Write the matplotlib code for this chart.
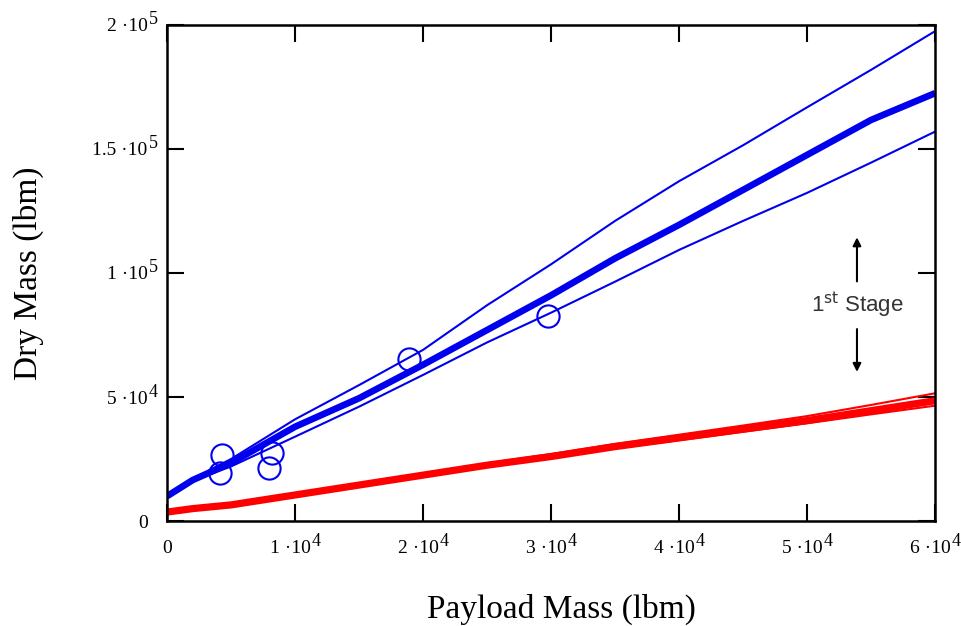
import numpy as np
import matplotlib.pyplot as plt

plt.rcParams['font.family'] = ['Liberation Serif', 'DejaVu Serif']

# payload mass (lbm)
payload = [0, 2000, 5000, 10000, 15000, 20000, 25000, 30000, 35000, 40000, 45000, 50000, 55000, 60000]

# blue: total dry mass, mean and bounds
blue_mid = [10000, 16500, 23400, 38000, 49500, 63000, 77000, 91000, 105900, 119400, 133500, 147600, 161700, 172500]
blue_hi = [10000, 17000, 25000, 41000, 54800, 69000, 87000, 103500, 121000, 137000, 151500, 166800, 181900, 197500]
blue_lo = [10000, 16200, 22000, 34000, 46100, 58900, 72000, 84000, 96500, 109300, 121000, 132300, 144500, 157000]

# red: 1st stage dry mass, mean and bounds
red_mid = [3600, 5000, 6500, 10500, 14500, 18500, 22500, 26000, 30000, 33500, 37000, 40500, 44500, 48500]
red_hi = [3600, 5100, 6700, 10900, 15000, 19200, 23300, 27000, 31100, 34800, 38500, 42300, 46800, 51500]
red_lo = [3600, 4900, 6400, 10300, 14200, 18100, 22000, 25400, 29300, 32600, 36000, 39400, 43000, 46500]

# historical vehicles
hist_x = [4300, 4100, 8200, 7950, 18900, 29800]
hist_y = [26600, 19400, 27400, 21400, 65300, 82700]

# tick labels: base text and exponent
xt = [0, 10000, 20000, 30000, 40000, 50000, 60000]
xl = ['0', '1 \u00b710', '2 \u00b710', '3 \u00b710', '4 \u00b710', '5 \u00b710', '6 \u00b710']
xexp = ['', '4', '4', '4', '4', '4', '4']
yt = [0, 50000, 100000, 150000, 200000]
yl = ['0', '5 \u00b710', '1 \u00b710', '1.5 \u00b710', '2 \u00b710']
yexp = ['', '4', '5', '5', '5']

fig = plt.figure(figsize=(9.61, 6.26), dpi=100)
ax = fig.add_axes([0.1738, 0.1677, 0.7992, 0.7924])

ax.plot(payload, blue_hi, color='#0000ee', lw=1.5)
ax.plot(payload, blue_lo, color='#0000ee', lw=1.5)
ax.plot(payload, blue_mid, color='#0000ee', lw=4.8, solid_capstyle='butt')
ax.plot(payload, red_hi, color='#ff0000', lw=1.5)
ax.plot(payload, red_lo, color='#ff0000', lw=1.5)
ax.plot(payload, red_mid, color='#ff0000', lw=5.2, solid_capstyle='butt')
ax.plot(hist_x, hist_y, 'o', ms=16, mfc='none', mec='#0000ee', mew=1.5)

ax.set_xlim(0, 60000)
ax.set_ylim(0, 200000)
ax.set_xticks(xt)
ax.set_xticklabels(xl)
ax.set_yticks(yt)
ax.set_yticklabels(yl)
ax.tick_params(direction='in', length=12, width=1.5, labelsize=14,
               top=True, right=True)
ax.tick_params(axis='x', pad=14)
ax.tick_params(axis='y', pad=14)
for s in ax.spines.values():
    s.set_linewidth(1.8)

ax.set_xlabel('Payload Mass (lbm)', fontsize=24, va='center')
ax.set_ylabel('Dry Mass (lbm)', fontsize=24, va='center')
ax.xaxis.set_label_coords(0.513, -0.179)
ax.yaxis.set_label_coords(-0.18, 0.5)

# 1st stage annotation
ax.text(53900, 87000, r'1$^{\rm st}$ Stage', fontsize=16, color='#333333',
        ha='center', va='center', family=['Liberation Sans', 'DejaVu Sans'],
        math_fontfamily='dejavusans')
ax.annotate('', xy=(53900, 115500), xytext=(53900, 95500),
            arrowprops=dict(arrowstyle='-|>', color='black', lw=1.5, mutation_scale=12))
ax.annotate('', xy=(53900, 59000), xytext=(53900, 78500),
            arrowprops=dict(arrowstyle='-|>', color='black', lw=1.5, mutation_scale=12))

# redraw tick labels with full-size exponents, whole label centred on x ticks
fig.canvas.draw()
r = fig.canvas.get_renderer()
W, H = fig.bbox.width, fig.bbox.height
pairs = [(lab, e, True) for lab, e in zip(ax.get_xticklabels(), xexp)]
pairs += [(lab, e, False) for lab, e in zip(ax.get_yticklabels(), yexp)]
for lab, e, is_x in pairs:
    bb = lab.get_window_extent(r)
    sw = 0
    if e:
        sup = fig.text(0, 0, e, fontsize=13, ha='left', va='top')
        sw = sup.get_window_extent(r).width
    dx = -sw / 2 if is_x else 0
    fig.text((bb.x0 + dx) / W, bb.y0 / H, lab.get_text(), fontsize=14,
             ha='left', va='bottom')
    if e:
        sup.set_position(((bb.x1 + dx + 1) / W, (bb.y1 + 7) / H))
ax.set_xticklabels([''] * len(xt))
ax.set_yticklabels([''] * len(yt))

fig.savefig('out.png', dpi=100)
